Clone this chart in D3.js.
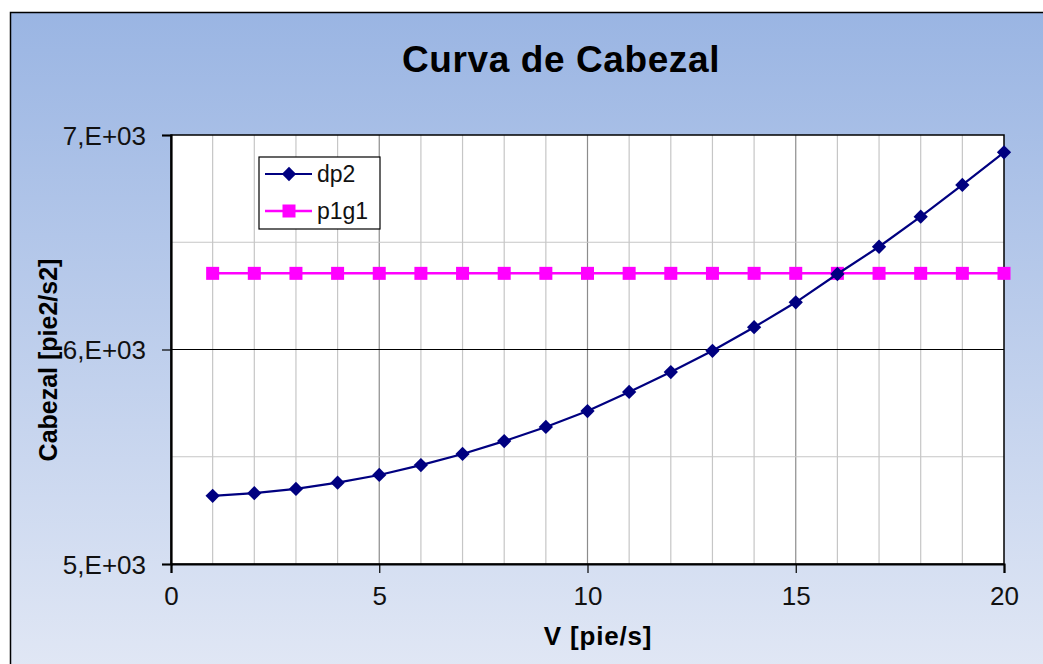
<!DOCTYPE html>
<html>
<head>
<meta charset="utf-8">
<script src="https://cdn.jsdelivr.net/npm/d3@7"></script>
<style>
	body { margin: 0; background: #fff; }
	svg { display: block; font-family: "Liberation Sans", Arial, sans-serif; }
</style>
</head>
<body>
<svg width="1043" height="664"></svg>
<script>
// Data
const velocities = [1, 2, 3, 4, 5, 6, 7, 8, 9, 10, 11, 12, 13, 14, 15, 16, 17, 18, 19, 20];
const dp2 = [5318, 5330, 5350, 5379, 5415, 5461, 5513, 5573, 5639, 5713,
	5802, 5895, 5994, 6104, 6220, 6352, 6479, 6619, 6767, 6919];
const p1g1 = [6355, 6355, 6355, 6355, 6355, 6355, 6355, 6355, 6355, 6355,
	6355, 6355, 6355, 6355, 6355, 6355, 6355, 6355, 6355, 6355];
const xTicks = [0, 5, 10, 15, 20];
const yTicks = [5000, 6000, 7000];
const seriesNames = ["dp2", "p1g1"];

const svg = d3.select("svg");

// Background gradient
const defs = svg.append("defs");
const grad = defs
	.append("linearGradient")
	.attr("id", "bg")
	.attr("x1", 0).attr("y1", 0)
	.attr("x2", 0).attr("y2", 1);
grad.append("stop").attr("offset", "0%").attr("stop-color", "#9ab5e3");
grad.append("stop").attr("offset", "100%").attr("stop-color", "#e2e8f5");

svg
	.append("rect")
	.attr("x", 10.5)
	.attr("y", 12.5)
	.attr("width", 1050)
	.attr("height", 670)
	.attr("fill", "url(#bg)")
	.attr("stroke", "#000")
	.attr("stroke-width", 1.5);

// Plot area
const plot = { left: 171, top: 135, right: 1004, bottom: 564 };

const x = d3.scaleLinear().domain([0, 20]).range([plot.left, plot.right]);
const y = d3.scaleLinear().domain([5000, 7000]).range([plot.bottom, plot.top]);

svg
	.append("rect")
	.attr("x", plot.left)
	.attr("y", plot.top)
	.attr("width", plot.right - plot.left)
	.attr("height", plot.bottom - plot.top)
	.attr("fill", "#fff");

// Vertical gridlines (every unit, majors darker)
svg
	.append("g")
	.selectAll("line")
	.data(d3.range(1, 20))
	.join("line")
	.attr("x1", (d) => x(d))
	.attr("x2", (d) => x(d))
	.attr("y1", plot.top)
	.attr("y2", plot.bottom)
	.attr("stroke", (d) => (d % 5 === 0 ? "#8c8c8c" : "#c6c6c6"))
	.attr("stroke-width", 1.2);

// Horizontal gridlines
svg
	.append("g")
	.selectAll("line")
	.data([5500, 6000, 6500])
	.join("line")
	.attr("x1", plot.left)
	.attr("x2", plot.right)
	.attr("y1", (d) => y(d))
	.attr("y2", (d) => y(d))
	.attr("stroke", (d) => (d === 6000 ? "#000" : "#c6c6c6"))
	.attr("stroke-width", (d) => (d === 6000 ? 1.2 : 1.2));

// Plot border
svg
	.append("rect")
	.attr("x", plot.left)
	.attr("y", plot.top)
	.attr("width", plot.right - plot.left)
	.attr("height", plot.bottom - plot.top)
	.attr("fill", "none")
	.attr("stroke", "#000")
	.attr("stroke-width", 1.5);

// Axes
const xAxis = svg
	.append("g")
	.attr("transform", `translate(0,${plot.bottom})`)
	.call(d3.axisBottom(x).tickValues(xTicks).tickSize(9).tickPadding(14));

const yAxis = svg
	.append("g")
	.attr("transform", `translate(${plot.left},0)`)
	.call(
		d3
			.axisLeft(y)
			.tickValues(yTicks)
			.tickSize(9)
			.tickPadding(16)
			.tickFormat((d) => d / 1000 + ",E+03")
	);

[xAxis, yAxis].forEach((g) => {
	g.select(".domain").attr("stroke", "#000").attr("stroke-width", 2.2);
	g.selectAll(".tick line").attr("stroke", "#000").attr("stroke-width", 1.2);
	g.selectAll(".tick text")
		.attr("fill", "#111")
		.style("font-size", "26px")
		.style("font-family", "'Liberation Sans', Arial, sans-serif");
});
yAxis.selectAll(".tick text").attr("dy", "0.36em");

// Title and axis titles
svg
	.append("text")
	.attr("x", 561)
	.attr("y", 72)
	.attr("text-anchor", "middle")
	.style("font-size", "37px")
	.style("font-weight", "bold")
	.style("letter-spacing", "0.6px")
	.text("Curva de Cabezal");

svg
	.append("text")
	.attr("x", 598)
	.attr("y", 645)
	.attr("text-anchor", "middle")
	.style("font-size", "26px")
	.style("font-weight", "bold")
	.style("letter-spacing", "0.8px")
	.text("V [pie/s]");

svg
	.append("text")
	.attr("transform", "translate(57,360) rotate(-90)")
	.attr("text-anchor", "middle")
	.style("font-size", "25px")
	.style("font-weight", "bold")
	.text("Cabezal [pie2/s2]");

// Series
const line = d3
	.line()
	.x((d) => x(d[0]))
	.y((d) => y(d[1]));

const dp2Points = d3.zip(velocities, dp2);
const p1g1Points = d3.zip(velocities, p1g1);

svg
	.append("path")
	.datum(p1g1Points)
	.attr("fill", "none")
	.attr("stroke", "#ff00ff")
	.attr("stroke-width", 2.5)
	.attr("d", line);

svg
	.append("g")
	.selectAll("rect")
	.data(p1g1Points)
	.join("rect")
	.attr("x", (d) => x(d[0]) - 6.5)
	.attr("y", (d) => y(d[1]) - 6.5)
	.attr("width", 13)
	.attr("height", 13)
	.attr("fill", "#ff00ff");

svg
	.append("path")
	.datum(dp2Points)
	.attr("fill", "none")
	.attr("stroke", "#000080")
	.attr("stroke-width", 2.2)
	.attr("d", line);

const diamond = d3.symbol().type(d3.symbolDiamond2).size(130);

svg
	.append("g")
	.selectAll("path")
	.data(dp2Points)
	.join("path")
	.attr("transform", (d) => `translate(${x(d[0])},${y(d[1])})`)
	.attr("d", diamond)
	.attr("fill", "#000080");

// Legend
const legend = svg.append("g").attr("transform", "translate(259,157)");

legend
	.append("rect")
	.attr("width", 121)
	.attr("height", 72)
	.attr("fill", "#fff")
	.attr("stroke", "#000")
	.attr("stroke-width", 1.2);

const legendColors = ["#000080", "#ff00ff"];
const rows = legend
	.selectAll(".row")
	.data(seriesNames)
	.join("g")
	.attr("class", "row")
	.attr("transform", (d, i) => `translate(0,${17 + i * 37})`);

rows
	.append("line")
	.attr("x1", 6)
	.attr("x2", 53)
	.attr("stroke", (d, i) => legendColors[i])
	.attr("stroke-width", (d, i) => (i === 0 ? 2 : 2.5));

rows
	.filter((d, i) => i === 0)
	.append("path")
	.attr("transform", "translate(30,0)")
	.attr("d", diamond)
	.attr("fill", "#000080");

rows
	.filter((d, i) => i === 1)
	.append("rect")
	.attr("x", 23.5)
	.attr("y", -6.5)
	.attr("width", 13)
	.attr("height", 13)
	.attr("fill", "#ff00ff");

rows
	.append("text")
	.attr("x", 58)
	.attr("dy", "0.36em")
	.style("font-size", "23px")
	.attr("fill", "#111")
	.text((d) => d);
</script>
</body>
</html>
